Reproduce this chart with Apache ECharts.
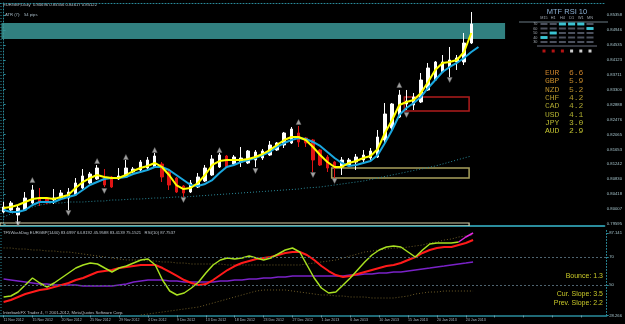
<!DOCTYPE html>
<html><head><meta charset="utf-8">
<script src="https://cdn.jsdelivr.net/npm/echarts@6/dist/echarts.min.js"></script>
<style>html,body{margin:0;padding:0;background:#000;}#c{width:625px;height:324px;}</style>
</head><body><div id="c"></div>
<script>
const dates = ['11 Nov 2012','12 Nov 2012','13 Nov 2012','14 Nov 2012','15 Nov 2012','16 Nov 2012','18 Nov 2012','19 Nov 2012','20 Nov 2012','21 Nov 2012','22 Nov 2012','23 Nov 2012','25 Nov 2012','26 Nov 2012','27 Nov 2012','28 Nov 2012','29 Nov 2012','30 Nov 2012','2 Dec 2012','3 Dec 2012','4 Dec 2012','5 Dec 2012','6 Dec 2012','7 Dec 2012','9 Dec 2012','10 Dec 2012','11 Dec 2012','12 Dec 2012','13 Dec 2012','14 Dec 2012','16 Dec 2012','17 Dec 2012','18 Dec 2012','19 Dec 2012','20 Dec 2012','21 Dec 2012','23 Dec 2012','24 Dec 2012','25 Dec 2012','26 Dec 2012','27 Dec 2012','28 Dec 2012','30 Dec 2012','31 Dec 2012','1 Jan 2013','2 Jan 2013','3 Jan 2013','4 Jan 2013','6 Jan 2013','7 Jan 2013','8 Jan 2013','9 Jan 2013','10 Jan 2013','11 Jan 2013','13 Jan 2013','14 Jan 2013','15 Jan 2013','16 Jan 2013','17 Jan 2013','18 Jan 2013','20 Jan 2013','21 Jan 2013','22 Jan 2013','23 Jan 2013','24 Jan 2013','25 Jan 2013'];
const opens = [0.79926,0.79981,0.79843,0.79981,0.80174,0.80312,0.80312,0.80257,0.80312,0.80312,0.80395,0.80588,0.80726,0.80836,0.80863,0.80891,0.80836,0.80891,0.81029,0.81084,0.81139,0.81167,0.81249,0.81029,0.80863,0.80643,0.80477,0.80615,0.80781,0.80946,0.81167,0.81470,0.81249,0.81304,0.81277,0.81360,0.81415,0.81497,0.81635,0.81773,0.81828,0.82104,0.81966,0.81911,0.81635,0.81442,0.81304,0.81167,0.81222,0.81304,0.81360,0.81415,0.81442,0.81911,0.82242,0.82545,0.82904,0.82876,0.82959,0.83290,0.83565,0.83786,0.83924,0.84062,0.84062,0.84585];
const closes = [0.80064,0.80174,0.80036,0.80312,0.80533,0.80202,0.80174,0.80312,0.80450,0.80477,0.80726,0.80919,0.80974,0.81139,0.80670,0.80615,0.80919,0.81139,0.81111,0.81304,0.81360,0.81470,0.80891,0.80670,0.80477,0.80450,0.80726,0.80891,0.81139,0.81387,0.81497,0.81167,0.81442,0.81415,0.81608,0.81580,0.81608,0.81773,0.81828,0.82104,0.82214,0.81856,0.81828,0.81360,0.81222,0.81139,0.81139,0.81360,0.81360,0.81442,0.81497,0.81608,0.81994,0.82628,0.82904,0.83152,0.82986,0.83097,0.83565,0.83896,0.84062,0.84062,0.84117,0.84172,0.84585,0.85109];
const lows = [0.79898,0.79898,0.79595,0.79954,0.80147,0.80091,0.80147,0.80147,0.80284,0.79981,0.80367,0.80560,0.80698,0.80808,0.80615,0.80588,0.80808,0.80863,0.81001,0.81056,0.81084,0.81139,0.80753,0.80533,0.80450,0.80340,0.80450,0.80588,0.80753,0.80919,0.81139,0.81139,0.81194,0.81167,0.81249,0.81167,0.81360,0.81470,0.81608,0.81690,0.81801,0.81718,0.81718,0.81029,0.81194,0.81029,0.80863,0.80946,0.81194,0.81084,0.81304,0.81360,0.81415,0.81773,0.82187,0.82518,0.82738,0.82738,0.82931,0.83262,0.83538,0.83758,0.83648,0.83841,0.83979,0.84558];
const highs = [0.80202,0.80229,0.80091,0.80477,0.80670,0.80588,0.80340,0.80560,0.80533,0.80588,0.80863,0.81111,0.81029,0.81222,0.81111,0.80919,0.81139,0.81360,0.81167,0.81360,0.81442,0.81553,0.81304,0.81084,0.80891,0.80670,0.80808,0.81001,0.81222,0.81497,0.81553,0.81497,0.81497,0.81718,0.81635,0.81635,0.81663,0.81883,0.81856,0.82132,0.82269,0.82297,0.81994,0.81939,0.81663,0.81497,0.81332,0.81442,0.81415,0.81525,0.81635,0.81690,0.82187,0.82931,0.82931,0.83290,0.83290,0.83207,0.83758,0.84034,0.84089,0.84254,0.84475,0.84254,0.84861,0.85440];
const maFast = [0.80036,0.80064,0.80119,0.80202,0.80284,0.80312,0.80312,0.80284,0.80340,0.80395,0.80588,0.80753,0.80863,0.80946,0.80891,0.80863,0.80863,0.80946,0.81056,0.81139,0.81194,0.81277,0.81167,0.80946,0.80670,0.80560,0.80588,0.80726,0.80946,0.81222,0.81332,0.81360,0.81360,0.81360,0.81387,0.81442,0.81525,0.81635,0.81773,0.81911,0.81994,0.81994,0.81911,0.81718,0.81497,0.81304,0.81167,0.81167,0.81277,0.81332,0.81415,0.81470,0.81663,0.82104,0.82462,0.82876,0.82959,0.83014,0.83207,0.83510,0.83841,0.84034,0.84062,0.84117,0.84337,0.84861];
const maSlow = [0.79981,0.79926,0.79926,0.79981,0.80119,0.80202,0.80202,0.80202,0.80284,0.80340,0.80395,0.80533,0.80670,0.80753,0.80836,0.80863,0.80863,0.80891,0.80974,0.81029,0.81084,0.81167,0.81167,0.81084,0.80946,0.80808,0.80670,0.80643,0.80698,0.80808,0.81001,0.81167,0.81222,0.81304,0.81360,0.81415,0.81497,0.81580,0.81718,0.81828,0.81911,0.81966,0.81939,0.81856,0.81746,0.81580,0.81415,0.81277,0.81194,0.81222,0.81277,0.81332,0.81497,0.81828,0.82187,0.82600,0.82793,0.82931,0.83097,0.83345,0.83565,0.83786,0.83924,0.84034,0.84172,0.84337,0.84475];
const maLong = [0.79788,0.79871,0.79954,0.80009,0.80064,0.80119,0.80147,0.80174,0.80174,0.80202,0.80202,0.80202,0.80215,0.80229,0.80229,0.80257,0.80257,0.80271,0.80284,0.80284,0.80298,0.80312,0.80312,0.80326,0.80340,0.80340,0.80353,0.80367,0.80381,0.80395,0.80409,0.80422,0.80436,0.80450,0.80464,0.80477,0.80491,0.80505,0.80519,0.80533,0.80546,0.80560,0.80588,0.80601,0.80615,0.80643,0.80670,0.80698,0.80726,0.80753,0.80781,0.80822,0.80863,0.80905,0.80946,0.80988,0.81029,0.81070,0.81111,0.81153,0.81194,0.81249,0.81304,0.81360,0.81415,0.81470];
const fractalUp = [[4,0.80808],[13,0.81332],[17,0.81442],[21,0.81635],[30,0.81635],[41,0.82407],[55,0.83427]];
const fractalDown = [[2,0.79595],[9,0.79898],[14,0.80505],[25,0.80257],[35,0.81056],[43,0.80946],[46,0.80781],[56,0.82600],[62,0.83565]];
// zones: [barFrom, priceFrom, barTo, priceTo]
const zoneTeal = [-0.3,0.84696,69.7,0.85137];
const zoneRed = [55.7,0.82711,64.7,0.83097];
const zoneOlive = [45.6,0.80863,64.7,0.81139];
const zoneBase = [-0.5,0.79540,64.7,0.79623];
const priceMin = 0.7954, priceMax = 0.85688;
const priceTicks = [0.79595,0.80007,0.80418,0.80830,0.81242,0.81653,0.82065,0.82476,0.82888,0.83300,0.83711,0.84123,0.84535,0.84946,0.85358];
// oscillator pane
const oscMin = 28.266, oscMax = 90;
const oscTicks = [28.266,50,70,87.141];
const oscLevels = [70,50];
const lime = [41.43,42.14,45.00,50.00,55.00,51.43,48.57,51.43,55.00,58.57,62.14,64.29,65.71,65.00,62.14,59.29,62.14,63.57,65.71,67.86,68.57,64.29,53.57,45.71,42.86,44.29,47.86,52.14,58.57,64.29,67.86,69.29,68.57,69.29,70.71,69.29,67.86,69.29,72.14,75.00,76.43,73.57,64.29,55.00,47.86,44.29,45.00,50.00,55.00,60.71,66.43,71.43,75.00,77.14,77.86,77.14,73.57,70.00,75.00,79.29,80.00,80.00,80.00,80.71,null,null];
const magenta = [null,null,null,null,null,null,null,null,null,null,null,null,null,null,null,null,null,null,null,null,null,null,null,null,null,null,null,null,null,null,null,null,null,null,null,null,null,null,null,null,null,null,null,null,null,null,null,null,null,null,null,null,null,null,null,null,null,null,null,null,null,null,null,80.71,84.29,87.14];
const redLine = [37.86,39.29,41.43,43.57,45.00,46.43,47.14,48.57,50.00,51.43,53.57,55.00,57.14,59.29,60.00,60.71,62.14,62.86,63.57,64.29,64.29,64.29,62.14,59.29,56.43,53.57,51.43,50.00,50.71,53.57,57.14,60.71,63.57,65.71,67.14,68.57,69.29,70.00,71.43,72.86,73.57,73.57,71.43,67.86,63.57,60.00,57.14,55.71,56.43,57.86,59.29,60.71,62.14,63.57,64.29,65.71,67.86,70.00,72.86,75.00,76.43,77.14,77.14,78.57,80.00,82.14];
const purpleLine = [54.29,53.57,52.86,52.14,51.43,50.71,50.71,50.00,50.00,50.00,50.00,49.29,49.29,49.29,49.29,49.29,50.00,50.71,52.14,52.86,53.57,53.57,53.57,52.86,52.86,52.14,52.14,52.14,52.14,52.14,52.86,52.86,53.57,53.57,54.29,54.29,55.00,55.00,55.71,55.71,56.43,56.43,56.43,56.43,56.43,56.43,56.43,56.43,57.14,57.14,57.86,57.86,58.57,58.57,59.29,59.29,60.00,60.71,61.43,62.14,62.86,63.57,64.29,65.00,65.71,66.43];
const bandUpper = [76.43,76.43,75.71,75.71,75.00,75.00,74.29,74.29,73.57,73.57,72.86,72.14,71.43,70.71,70.00,69.29,68.57,67.86,67.86,67.86,67.14,67.14,66.43,66.43,65.71,65.71,65.00,65.00,65.00,65.00,65.00,64.29,64.29,64.29,64.29,64.29,64.29,64.29,64.29,64.29,64.29,64.29,65.00,65.71,66.43,67.14,67.86,69.29,70.71,72.14,73.57,74.29,75.00,75.71,76.43,76.43,77.14,77.86,78.57,80.00,80.71,82.14,82.86,84.29,85.00,85.71];
const bandLower = [null,null,null,null,null,null,null,null,null,null,null,null,null,null,null,null,null,null,null,28.57,29.29,30.00,30.71,31.43,32.14,32.86,33.57,34.29,35.71,37.14,38.57,40.00,41.43,42.86,44.29,45.71,46.43,46.43,46.43,46.43,45.71,45.00,44.29,43.57,42.86,42.86,42.14,42.14,41.43,41.43,41.43,40.71,40.71,40.71,40.71,41.43,42.14,43.57,44.29,45.00,45.00,45.71,45.71,45.71,45.71,45.71];
const bounce = 1.3, curSlope = 3.5, prevSlope = 2.2;
// MTF RSI panel
const timeframes = ['M15','H1','H4','D1','W1','MN'];
const rsiLevels = [30,40,50,60,70];
const mtfLevel = [40,50,70,70,70,60];
const mtfSignal = ['down','down','down','up','up','up'];
const currencies = ['EUR','GBP','NZD','CHF','CAD','USD','JPY','AUD'];
const strength = [6.6,5.9,5.2,4.2,4.2,4.1,3.0,2.9];
const headerOHLC = ['0.84696','0.85356','0.84617','0.85122'];
const atrPips = 54;
const oscValues = ['83.6997','64.8192','45.9588','83.4139','75.1521'];
const rsiValue = '87.7537';

const TOTAL = 84;
const cats = [];
for (let i = 0; i < TOTAL; i++) cats.push(i < dates.length ? dates[i] : '#' + i);
const candles = dates.map((d, i) => [opens[i], closes[i], lows[i], highs[i]]);

const chart = echarts.init(document.getElementById('c'), null, {renderer: 'canvas'});
const teal = '#2a8c9c';
const zoneStyles = [
  {fill: 'rgba(58,150,150,0.85)', stroke: 'rgba(58,150,150,0.85)', lineWidth: 0},
  {fill: 'none', stroke: '#b01c1c', lineWidth: 1.5},
  {fill: 'none', stroke: '#a8a05c', lineWidth: 1.5},
  {fill: 'none', stroke: '#d8d0a8', lineWidth: 1.2}
];
const currencyColors = ['#c8802a','#c4882a','#bc902c','#b49a2e','#aaa430','#b0b030','#b8b830','#c0c030'];

const mtfCells = [];
timeframes.forEach((tf, i) => rsiLevels.forEach(l => mtfCells.push([i, l])));
const mtfHi = timeframes.map((tf, i) => [i, mtfLevel[i]]);
const mtfDots = timeframes.map((tf, i) => ({value: [i, 10], itemStyle: {color: mtfSignal[i] === 'down' ? '#e01818' : '#ffffff'}}));

const graphics = [
  {type: 'text', x: 3, y: 5, style: {text: 'EURGBP,Daily  ' + headerOHLC.join(' '), fill: '#b8c4cc', fontFamily: 'Liberation Sans', fontSize: 4.2, verticalAlign: 'middle'}},
  {type: 'text', x: 5, y: 15, style: {text: 'ATR (7):   ' + atrPips + ' pips', fill: '#a8bcc8', fontFamily: 'Liberation Sans', fontSize: 4.2, verticalAlign: 'middle'}},
  {type: 'text', x: 567, y: 12, style: {text: 'MTF RSI 10', fill: '#8cb0d4', fontFamily: 'Liberation Sans', fontSize: 7.5, align: 'center', verticalAlign: 'middle'}},
  {type: 'line', shape: {x1: 519, y1: 22, x2: 608, y2: 22}, style: {stroke: '#6a7a84', lineWidth: 1}},
  {type: 'line', shape: {x1: 537, y1: 46, x2: 597, y2: 46}, style: {stroke: '#6a7080', lineWidth: 1}},
  {type: 'line', shape: {x1: 1, y1: 3, x2: 1, y2: 226}, style: {stroke: teal, lineWidth: 1, lineDash: [1, 2]}},
  {type: 'line', shape: {x1: 1, y1: 229, x2: 1, y2: 315}, style: {stroke: teal, lineWidth: 1, lineDash: [1, 2]}},
  {type: 'text', x: 3, y: 232.5, style: {text: 'TF5WashDog EURGBP(1440) ' + oscValues.join(' ') + '   RSI(10) ' + rsiValue, fill: '#b8c0c8', fontFamily: 'Liberation Sans', fontSize: 4.2, verticalAlign: 'middle'}},
  {type: 'text', x: 3, y: 312.5, style: {text: 'InterbankFX Trader 4, \u00a9 2001-2012, MetaQuotes Software Corp.', fill: '#b8c0c8', fontFamily: 'Liberation Sans', fontSize: 4.2, verticalAlign: 'middle'}},
  {type: 'text', x: 603, y: 276, style: {text: 'Bounce: ' + bounce.toFixed(1), fill: '#c8c828', fontFamily: 'Liberation Sans', fontSize: 7, align: 'right', verticalAlign: 'middle'}},
  {type: 'text', x: 603, y: 294, style: {text: 'Cur. Slope: ' + curSlope.toFixed(1), fill: '#c8c828', fontFamily: 'Liberation Sans', fontSize: 7, align: 'right', verticalAlign: 'middle'}},
  {type: 'text', x: 603, y: 303, style: {text: 'Prev. Slope: ' + prevSlope.toFixed(1), fill: '#c8c828', fontFamily: 'Liberation Sans', fontSize: 7, align: 'right', verticalAlign: 'middle'}}
];
currencies.forEach((c, i) => {
  graphics.push({type: 'text', x: 545, y: 73 + i * 8.3, style: {text: c + '  ' + strength[i].toFixed(1), fill: currencyColors[i], fontFamily: 'Liberation Mono', fontSize: 8, verticalAlign: 'middle'}});
});

const lowerLine = (name, data, color, width, type, z) => ({
  name, type: 'line', xAxisIndex: 2, yAxisIndex: 1, data, showSymbol: false, symbol: 'none',
  lineStyle: {color, width, type: type || 'solid'}, z: z || 2, silent: true, connectNulls: false
});

chart.setOption({
  animation: false,
  backgroundColor: '#000000',
  grid: [
    {left: 0, top: 3, width: 608, height: 223},
    {left: 0, top: 229, width: 608, height: 86.43},
    {left: 539.4, top: 21.75, width: 55.2, height: 31.5}
  ],
  xAxis: [
    {type: 'category', gridIndex: 0, data: cats, boundaryGap: true, position: 'bottom',
      axisLine: {show: true, lineStyle: {color: teal, width: 2}}, axisTick: {show: false}, axisLabel: {show: false}, splitLine: {show: false}},
    {type: 'value', gridIndex: 0, min: -0.5, max: TOTAL - 0.5, position: 'top',
      axisLine: {show: true, lineStyle: {color: teal, width: 1, type: [1, 2]}}, axisTick: {show: false}, axisLabel: {show: false}, splitLine: {show: false}},
    {type: 'category', gridIndex: 1, data: cats, boundaryGap: true, position: 'bottom',
      axisLine: {show: true, lineStyle: {color: teal, width: 1.5}},
      axisTick: {show: true, interval: 3, alignWithLabel: true, length: 2, lineStyle: {color: '#6a9aa8'}},
      axisLabel: {show: true, interval: 3, align: 'left', margin: 2.5, color: '#aab8c4', fontFamily: 'Liberation Sans', fontSize: 3.6,
        formatter: (v, i) => (i < dates.length ? v : '')},
      splitLine: {show: false}},
    {type: 'category', gridIndex: 2, data: timeframes, position: 'top',
      axisLine: {show: false}, axisTick: {show: false},
      axisLabel: {show: true, interval: 0, hideOverlap: false, margin: 2, color: '#a0a8b0', fontFamily: 'Liberation Sans', fontSize: 3.8}, splitLine: {show: false}}
  ],
  yAxis: [
    {type: 'value', gridIndex: 0, position: 'right', min: priceMin, max: priceMax, scale: true,
      axisLine: {show: true, lineStyle: {color: teal, width: 1, type: [1, 2]}},
      axisTick: {show: true, customValues: priceTicks, length: 2, lineStyle: {color: teal}},
      axisLabel: {show: true, customValues: priceTicks, margin: 2.5, color: '#a6c4cc', fontFamily: 'Liberation Sans', fontSize: 4.2,
        formatter: v => v.toFixed(5)},
      splitLine: {show: false}},
    {type: 'value', gridIndex: 1, position: 'right', min: oscMin, max: oscMax,
      axisLine: {show: true, lineStyle: {color: teal, width: 1, type: [1, 2]}},
      axisTick: {show: true, customValues: oscTicks, length: 2, lineStyle: {color: teal}},
      axisLabel: {show: true, customValues: oscTicks, margin: 2.5, color: '#a6c4cc', fontFamily: 'Liberation Sans', fontSize: 4.2,
        formatter: v => String(v)},
      splitLine: {show: false}},
    {type: 'value', gridIndex: 2, position: 'left', min: 5, max: 75,
      axisLine: {show: false}, axisTick: {show: false},
      axisLabel: {show: true, customValues: rsiLevels, hideOverlap: false, margin: 2, color: '#a0a8b0', fontFamily: 'Liberation Sans', fontSize: 3.8},
      splitLine: {show: false}}
  ],
  series: [
    {type: 'custom', xAxisIndex: 1, yAxisIndex: 0, silent: true, clip: true, z: 1,
      data: [zoneTeal, zoneRed, zoneOlive, zoneBase],
      encode: {x: [0, 2], y: [1, 3]},
      renderItem: (params, api) => {
        const p0 = api.coord([api.value(0), api.value(1)]);
        const p1 = api.coord([api.value(2), api.value(3)]);
        const s = zoneStyles[params.dataIndex];
        const x = Math.min(p0[0], p1[0]), y = Math.min(p0[1], p1[1]);
        return {type: 'rect', shape: {x, y, width: Math.abs(p1[0] - p0[0]), height: Math.abs(p1[1] - p0[1])},
          style: {fill: s.fill, stroke: s.stroke, lineWidth: s.lineWidth}};
      }},
    {type: 'line', xAxisIndex: 0, yAxisIndex: 0, data: maLong, showSymbol: false, symbol: 'none', silent: true, z: 2,
      lineStyle: {color: '#2a8a9a', width: 1, type: [1, 2]}},
    {type: 'candlestick', xAxisIndex: 0, yAxisIndex: 0, data: candles, barWidth: 3, silent: true, z: 3,
      itemStyle: {color: '#ffffff', color0: '#e01414', borderColor: '#ffffff', borderColor0: '#e01414', borderWidth: 1},
      markLine: {silent: true, symbol: 'none', data: [{yAxis: closes[closes.length - 1]}],
        lineStyle: {opacity: 0},
        label: {position: 'end', distance: 1, formatter: p => Number(p.value).toFixed(5), backgroundColor: '#38dce4', color: '#003038',
          fontFamily: 'Liberation Sans', fontSize: 4.2, padding: [1, 2]}}},
    {type: 'line', xAxisIndex: 0, yAxisIndex: 0, data: maSlow, showSymbol: false, symbol: 'none', silent: true, z: 4,
      lineStyle: {color: '#1aa8e0', width: 2}},
    {type: 'line', xAxisIndex: 0, yAxisIndex: 0, data: maFast, showSymbol: false, symbol: 'none', silent: true, z: 5,
      lineStyle: {color: '#ffff00', width: 2}},
    {type: 'scatter', xAxisIndex: 0, yAxisIndex: 0, data: fractalUp, symbol: 'triangle', symbolSize: [5, 5], silent: true, z: 6,
      itemStyle: {color: '#c8c8c8', borderColor: '#707070', borderWidth: 0.5}},
    {type: 'scatter', xAxisIndex: 0, yAxisIndex: 0, data: fractalDown, symbol: 'triangle', symbolRotate: 180, symbolSize: [5, 5], silent: true, z: 6,
      itemStyle: {color: '#c8c8c8', borderColor: '#707070', borderWidth: 0.5}},
    Object.assign(lowerLine('bandUpper', bandUpper, '#6e5c28', 1, [1, 2], 1), {
      markLine: {silent: true, symbol: 'none', data: oscLevels.map(v => ({yAxis: v})),
        lineStyle: {color: '#4e6470', width: 1, type: [2, 2]}, label: {show: false}}}),
    lowerLine('bandLower', bandLower, '#6e5c28', 1, [1, 2], 1),
    lowerLine('purple', purpleLine, '#7a22c8', 1.5, 'solid', 2),
    lowerLine('red', redLine, '#ff1a1a', 2, 'solid', 3),
    lowerLine('lime', lime, '#a8e020', 1.5, 'solid', 4),
    lowerLine('magenta', magenta, '#e028e0', 1.5, 'solid', 4),
    {type: 'scatter', xAxisIndex: 3, yAxisIndex: 2, data: mtfCells, symbol: 'rect', symbolSize: [7, 2], silent: true,
      itemStyle: {color: '#5e6474'}},
    {type: 'scatter', xAxisIndex: 3, yAxisIndex: 2, data: mtfHi, symbol: 'rect', symbolSize: [7, 3], silent: true, z: 3,
      itemStyle: {color: '#38e0f0'}},
    {type: 'scatter', xAxisIndex: 3, yAxisIndex: 2, data: mtfDots, symbol: 'rect', symbolSize: [3, 3], silent: true}
  ],
  graphic: graphics
});
</script>
</body></html>
